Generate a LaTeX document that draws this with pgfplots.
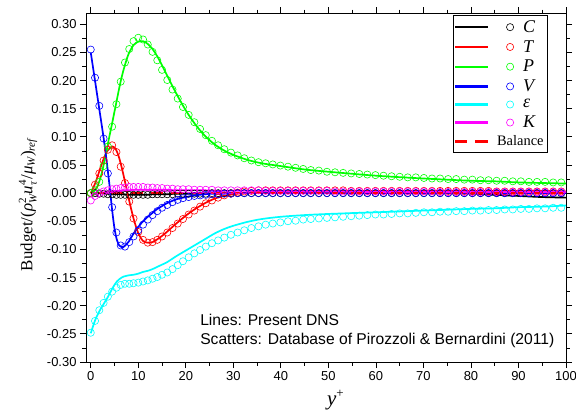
\documentclass[border=0pt]{standalone}
\usepackage{fontspec}
\setmainfont{Liberation Serif}
\newfontfamily\arial{Liberation Sans}
\usepackage{pgfplots}
\usepackage{pgfplotstable}
\pgfplotsset{compat=1.18}
\definecolor{cR}{RGB}{255,0,0}
\definecolor{cG}{RGB}{0,255,0}
\definecolor{cB}{RGB}{0,0,255}
\definecolor{cC}{RGB}{0,255,255}
\definecolor{cM}{RGB}{255,0,255}

\pgfplotstableread{
x C T P V E K
0 0 0 0 0.255 -0.248 -0.013
0.9 0 0.015 0.005 0.205 -0.227 -0.005
1.8 -0.001 0.035 0.02 0.155 -0.208 0.000
2.7 -0.001 0.058 0.048 0.097 -0.195 0.003
3.6 -0.002 0.077 0.083 0.035 -0.184 0.005
4.5 -0.002 0.085 0.118 -0.025 -0.175 0.007
5.4 -0.003 0.073 0.158 -0.070 -0.168 0.008
6.3 -0.003 0.047 0.198 -0.093 -0.163 0.009
7.2 -0.003 0.018 0.232 -0.095 -0.161 0.010
8.1 -0.003 -0.015 0.256 -0.087 -0.161 0.011
9.0 -0.003 -0.045 0.270 -0.077 -0.160 0.011
10 -0.003 -0.069 0.276 -0.066 -0.159 0.011
11 -0.003 -0.083 0.273 -0.056 -0.157 0.011
12 -0.003 -0.088 0.264 -0.047 -0.155 0.010
13 -0.002 -0.087 0.251 -0.039 -0.152 0.010
14 -0.002 -0.083 0.236 -0.032 -0.149 0.009
15 -0.002 -0.077 0.219 -0.026 -0.145 0.009
16.1 -0.002 -0.070 0.201 -0.021 -0.141 0.008
17.2 -0.002 -0.062 0.184 -0.016 -0.135 0.008
18.3 -0.001 -0.054 0.168 -0.012 -0.128 0.007
19.4 -0.001 -0.046 0.153 -0.009 -0.121 0.007
20.6 -0.001 -0.038 0.139 -0.007 -0.114 0.007
21.8 -0.001 -0.031 0.126 -0.005 -0.107 0.006
23 -0.001 -0.024 0.114 -0.004 -0.101 0.006
24.2 -0.001 -0.018 0.103 -0.003 -0.095 0.006
25.5 0 -0.013 0.093 -0.002 -0.089 0.006
26.8 0 -0.008 0.085 -0.002 -0.084 0.005
28.1 0 -0.004 0.078 -0.001 -0.079 0.005
29.5 0 -0.001 0.072 -0.001 -0.074 0.005
30.9 0 0.001 0.067 0 -0.070 0.005
32.3 0 0.003 0.062 0 -0.066 0.005
33.8 0 0.004 0.058 0 -0.062 0.005
35.3 0 0.005 0.055 0 -0.059 0.005
36.8 0 0.005 0.053 0 -0.056 0.004
38.3 0 0.005 0.051 0 -0.054 0.004
39.9 0 0.005 0.049 0 -0.052 0.004
41.5 0 0.005 0.047 0 -0.050 0.004
43.1 0 0.005 0.045 0 -0.049 0.004
44.7 0 0.005 0.043 0 -0.047 0.004
46.3 0 0.005 0.041 0 -0.046 0.004
48 0 0.005 0.040 0 -0.045 0.004
49.7 0 0.005 0.038 0 -0.044 0.004
51.4 0 0.005 0.037 0 -0.043 0.003
53.1 0 0.005 0.036 0 -0.042 0.003
54.8 0 0.004 0.035 0 -0.041 0.003
56.5 0 0.004 0.034 0 -0.040 0.003
58.2 0 0.004 0.033 0 -0.039 0.003
59.9 0 0.004 0.032 0 -0.038 0.003
61.6 0 0.004 0.031 0 -0.038 0.003
63.3 0 0.004 0.030 0 -0.037 0.003
65 0 0.004 0.029 0 -0.036 0.003
66.7 0 0.004 0.028 0 -0.036 0.003
68.4 0 0.004 0.028 0 -0.035 0.003
70.1 0 0.004 0.027 0 -0.034 0.003
71.8 0 0.004 0.026 0 -0.034 0.003
73.5 0 0.004 0.026 0 -0.033 0.002
75.2 0 0.004 0.025 0 -0.033 0.002
76.9 0 0.004 0.025 0 -0.032 0.002
78.6 0 0.004 0.024 0 -0.032 0.002
80.3 0 0.004 0.024 0 -0.031 0.002
82 0 0.004 0.023 0 -0.031 0.002
83.7 0 0.004 0.023 0 -0.030 0.002
85.4 0 0.003 0.022 0 -0.030 0.002
87.1 0 0.003 0.022 0 -0.029 0.002
88.8 0 0.003 0.021 0 -0.029 0.002
90.5 0 0.003 0.021 0 -0.028 0.002
92.2 0 0.003 0.020 0 -0.028 0.002
93.9 0 0.003 0.020 0 -0.027 0.002
95.6 0 0.003 0.020 0 -0.027 0.002
97.3 0 0.003 0.019 0 -0.026 0.002
99 0 0.003 0.019 0 -0.026 0.002
}\scat

\pgfplotstableread{
x C T P V E K B
0 0 0 0 0.250 -0.249 -0.004 0
0.5 0 0.009 0.002 0.222 -0.236 -0.003 0
1 0 0.019 0.006 0.194 -0.224 -0.002 0
1.5 0 0.031 0.014 0.166 -0.215 -0.001 0
2 0 0.044 0.026 0.138 -0.207 0 0
2.5 0 0.056 0.042 0.110 -0.200 0.001 0
3 -0.001 0.067 0.062 0.080 -0.193 0.002 0
3.5 -0.001 0.075 0.083 0.046 -0.186 0.002 0
4 -0.001 0.080 0.104 0.010 -0.178 0.003 0
4.5 -0.001 0.083 0.124 -0.030 -0.170 0.003 0
5 -0.002 0.081 0.145 -0.063 -0.163 0.004 0
5.5 -0.002 0.074 0.166 -0.083 -0.157 0.004 0
6 -0.002 0.062 0.187 -0.093 -0.153 0.004 0
6.5 -0.002 0.046 0.206 -0.096 -0.150 0.005 0
7 -0.002 0.028 0.222 -0.095 -0.148 0.005 0
7.5 -0.003 0.009 0.236 -0.091 -0.147 0.005 0
8 -0.003 -0.010 0.248 -0.086 -0.146 0.005 0
9 -0.003 -0.045 0.263 -0.072 -0.145 0.006 0
10 -0.003 -0.071 0.269 -0.060 -0.143 0.006 0
11 -0.003 -0.085 0.270 -0.050 -0.140 0.006 0
12 -0.003 -0.088 0.265 -0.042 -0.138 0.006 0
13 -0.002 -0.087 0.256 -0.035 -0.135 0.006 0
14 -0.002 -0.082 0.243 -0.028 -0.131 0.006 0
15 -0.002 -0.076 0.227 -0.023 -0.127 0.006 0
16 -0.002 -0.069 0.210 -0.018 -0.123 0.006 0
18 -0.001 -0.054 0.177 -0.011 -0.112 0.005 0
20 -0.001 -0.040 0.147 -0.007 -0.102 0.005 0
22 -0.001 -0.028 0.122 -0.004 -0.092 0.005 0
24 0 -0.018 0.102 -0.002 -0.082 0.005 0
26 0 -0.010 0.087 -0.001 -0.072 0.004 0
28 0 -0.005 0.076 -0.001 -0.064 0.004 0
30 0 -0.002 0.068 0 -0.058 0.004 0
33 0 0.001 0.059 0 -0.051 0.004 0
36 0 0.003 0.053 0 -0.046 0.004 0
40 0 0.004 0.048 0 -0.042 0.003 0
45 0 0.004 0.042 0 -0.039 0.003 0
50 0 0.004 0.038 0 -0.037 0.003 0
60 0 0.004 0.031 0 -0.034 0.002 0
70 0 0.004 0.026 0 -0.031 0.002 0
80 -0.001 0.004 0.022 0 -0.028 0.002 0
85 -0.003 0.004 0.021 0 -0.027 0.002 0
90 -0.005 0.004 0.019 0 -0.025 0.002 0
95 -0.007 0.004 0.018 0 -0.024 0.002 0
100 -0.008 0.003 0.017 0 -0.022 0.002 0
}\lines

\pgfplotsset{
  legimg/.style={legend image code/.code={
    \fill[fill=#1, draw=none] (0bp,-1.1bp) rectangle (33bp,1.1bp);
    \draw[line width=0.6pt, solid, draw=#1, fill=none] (55bp,0bp) circle (3.6bp);
    \path[draw=none, fill=none] (0bp,0bp)--(66bp,0bp);}},
  legdash/.style={legend image code/.code={
    \fill[fill=#1, draw=none] (0bp,-1.1bp) rectangle (12bp,1.1bp);
    \fill[fill=#1, draw=none] (20bp,-1.1bp) rectangle (33bp,1.1bp);
    \path[draw=none, fill=none] (0bp,0bp)--(66bp,0bp);}},
  scat/.style={only marks, mark=o, mark size=3.6bp, mark options={line width=0.6pt}, forget plot},
  lin/.style={line width=1.7bp, smooth, forget plot},
}
\newcommand\sz[1]{\fontsize{#1}{#1}\selectfont}

\begin{document}
\begin{tikzpicture}
\useasboundingbox (-86bp,-53bp) rectangle (490bp,362bp);
\begin{axis}[
  at={(0,0)}, anchor=south west, scale only axis,
  width=480bp, height=349bp,
  xmin=-1, xmax=100, ymin=-0.30, ymax=0.32,
  xtick={0,10,...,100}, minor x tick num=1,
  ytick={-0.3,-0.25,-0.2,-0.15,-0.1,-0.05,0,0.05,0.1,0.15,0.2,0.25,0.3},
  minor y tick num=1,
  tick align=outside,
  major tick length=6bp, minor tick length=3.5bp,
  axis line style={line width=0.9pt},
  every tick/.style={black, line width=0.8pt},
  tick label style={font=\arial\sz{13}},
  xticklabel style={/pgf/number format/assume math mode=true},
  yticklabel style={/pgf/number format/.cd, fixed, fixed zerofill, precision=2, assume math mode=true},
  xlabel={\textit{y}$^{\hbox{\sz{13}+}}$},
  xlabel style={font=\sz{21}, at={(axis description cs:0.52,0)}, anchor=center, yshift=-38bp},
  ylabel={Budget/(\textit{ρ}${}^{\hbox{\sz{11}2}}_{\hbox{\sz{11}\itshape W}}$\textit{u}${}^{\hbox{\sz{11}4}}_{\hbox{\sz{11}\itshape τ}}$/\textit{μ}${}_{\hbox{\sz{11}\itshape W}}$)${}_{\hbox{\sz{11}\itshape ref}}$},
  ylabel style={font=\sz{17}, at={(axis description cs:0,0.45)}, anchor=center, rotate=0, xshift=0bp, yshift=58bp},
  legend style={at={(rel axis cs:0.9625,0.994)}, anchor=north east, draw=black, line width=0.8pt,
    font=\sz{18}, inner xsep=2bp, inner ysep=3bp, row sep=2.5bp, cells={anchor=west}},
  legend cell align=left,
]
\addplot[lin, black] table[x=x,y=C]{\lines};
\addplot[lin, cR] table[x=x,y=T]{\lines};
\addplot[lin, cG] table[x=x,y=P]{\lines};
\addplot[lin, cB] table[x=x,y=V]{\lines};
\addplot[lin, cC] table[x=x,y=E]{\lines};
\addplot[lin, cM] table[x=x,y=K]{\lines};
\addplot[line width=1.7bp, cR, dash pattern=on 12bp off 8bp, forget plot] table[x=x,y=B]{\lines};

\addplot[scat, black] table[x=x,y=C]{\scat};
\addplot[scat, cR] table[x=x,y=T]{\scat};
\addplot[scat, cG] table[x=x,y=P]{\scat};
\addplot[scat, cB] table[x=x,y=V]{\scat};
\addplot[scat, cC] table[x=x,y=E]{\scat};
\addplot[scat, cM] table[x=x,y=K]{\scat};

\addlegendimage{legimg=black}\addlegendentry{\textit{C}}
\addlegendimage{legimg=cR}\addlegendentry{\textit{T}}
\addlegendimage{legimg=cG}\addlegendentry{\textit{P}}
\addlegendimage{legimg=cB}\addlegendentry{\textit{V}}
\addlegendimage{legimg=cC}\addlegendentry{\textit{ε}}
\addlegendimage{legimg=cM}\addlegendentry{\textit{K}}
\addlegendimage{legdash=cR}\addlegendentry{\hspace*{-26bp}\sz{14.5}Balance}

\node[anchor=west, inner sep=0pt, font=\arial\sz{15.7}] at (axis cs:23.0,-0.2256) {Lines: Present DNS};
\node[anchor=west, inner sep=0pt, font=\arial\sz{15.7}] at (axis cs:23.0,-0.2615) {Scatters: Database of Pirozzoli \& Bernardini (2011)};
\end{axis}
\end{tikzpicture}
\end{document}
